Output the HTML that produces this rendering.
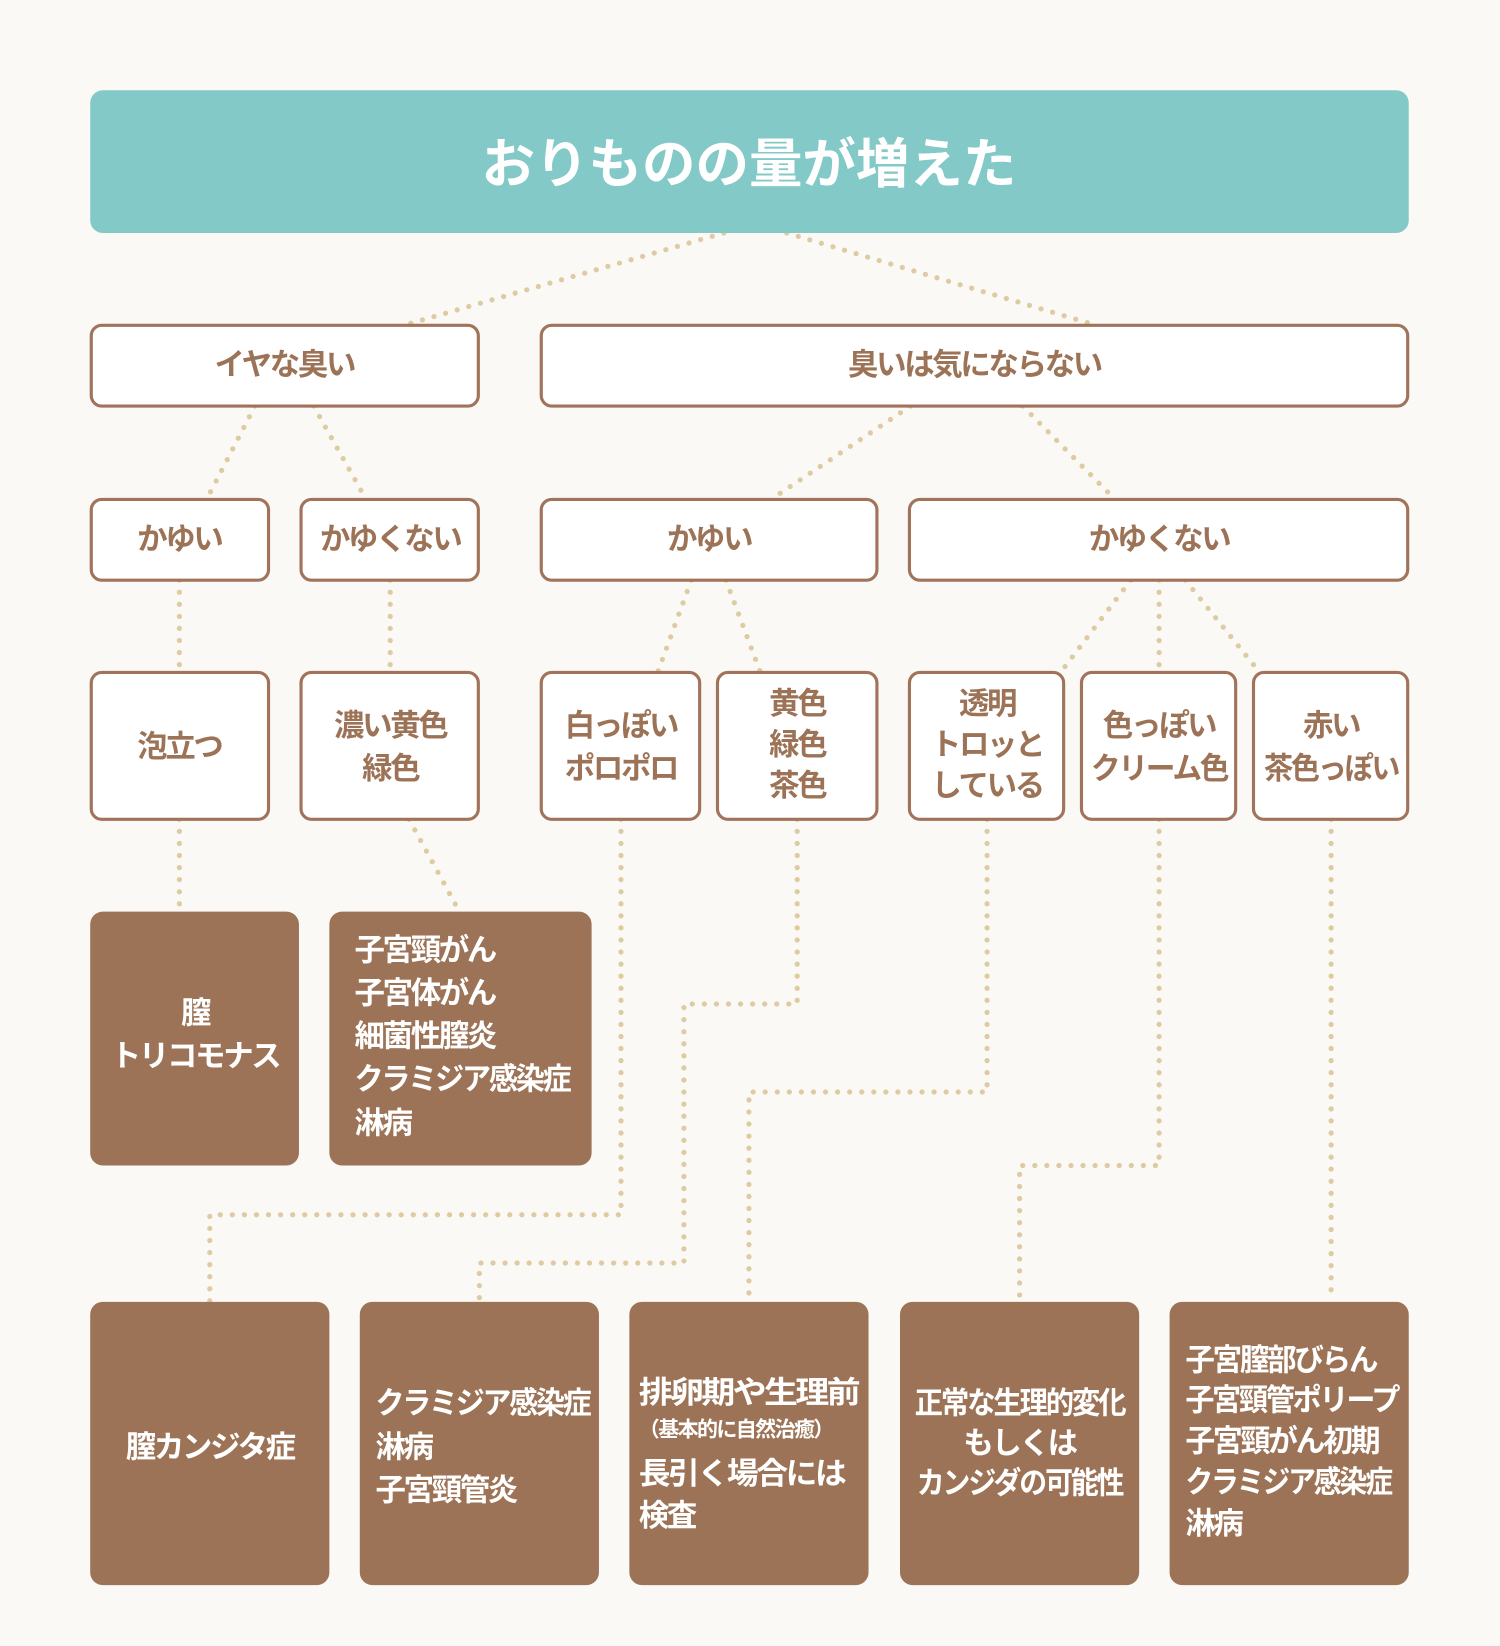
<!DOCTYPE html>
<html><head><meta charset="utf-8"><style>
html,body{margin:0;padding:0;background:#faf9f5;}
svg{display:block}
text{font-family:"Liberation Sans","Noto Sans CJK JP",sans-serif;font-weight:bold;dominant-baseline:central;}
.w{fill:#fff;stroke:#a0735a;stroke-width:3}
.b{fill:#9c7356}
.t{fill:#9c7356;font-size:29px;text-anchor:middle;letter-spacing:-2.2px}
.tw{fill:#fff;font-size:29px;letter-spacing:-2.2px}
.c{text-anchor:middle}
.d{fill:none;stroke:#dfcba3;stroke-width:5;stroke-linecap:round;stroke-dasharray:0 11.5}
</style></head><body>
<svg width="1500" height="1646" viewBox="0 0 1430 1569" xmlns="http://www.w3.org/2000/svg">
<rect width="1430" height="1569" fill="#faf9f5"/>
<g class="d">
<path d="M690 222 L385 310"/><path d="M750 222 L1045 310"/>
<path d="M243 387 L197 476"/><path d="M299 387 L349 476"/>
<path d="M868 387 L735 476"/><path d="M975 387 L1063 476"/>
<path d="M171 553 L171 641"/><path d="M372 553 L372 641"/>
<path d="M659 553 L627 641"/><path d="M692 553 L725 641"/>
<path d="M1078 553 L1011 641"/><path d="M1105 553 L1105 641"/><path d="M1130 553 L1201 641"/>
<path d="M171 781 L171 869"/><path d="M390 781 L438 869"/>
<path d="M592 781 L592 1158 L200 1158 L200 1241"/>
<path d="M760 781 L760 957 L652 957 L652 1204 L457 1204 L457 1241"/>
<path d="M941 781 L941 1041 L714 1041 L714 1241"/>
<path d="M1105 781 L1105 1111 L972 1111 L972 1241"/>
<path d="M1269 781 L1269 1241"/>
</g>
<rect x="86" y="86" width="1257" height="136" rx="12" fill="#83c9c7"/>
<text x="714" y="157" fill="#fff" font-size="51" text-anchor="middle">おりものの量が増えた</text>
<rect class="w" x="87" y="310" width="369" height="77" rx="10"/>
<text class="t" x="271" y="348">イヤな臭い</text>
<rect class="w" x="516" y="310" width="826" height="77" rx="10"/>
<text class="t" x="929" y="348">臭いは気にならない</text>
<rect class="w" x="87" y="476" width="169" height="77" rx="10"/>
<text class="t" x="171" y="514">かゆい</text>
<rect class="w" x="287" y="476" width="169" height="77" rx="10"/>
<text class="t" x="372" y="514">かゆくない</text>
<rect class="w" x="516" y="476" width="320" height="77" rx="10"/>
<text class="t" x="676" y="514">かゆい</text>
<rect class="w" x="867" y="476" width="475" height="77" rx="10"/>
<text class="t" x="1105" y="514">かゆくない</text>
<rect class="w" x="87" y="641" width="169" height="140" rx="10"/>
<text class="t" x="171" y="712">泡立つ</text>
<rect class="w" x="287" y="641" width="169" height="140" rx="10"/>
<text class="t" x="372" y="692">濃い黄色</text><text class="t" x="372" y="733">緑色</text>
<rect class="w" x="516" y="641" width="151" height="140" rx="10"/>
<text class="t" x="592" y="692">白っぽい</text><text class="t" x="592" y="733">ポロポロ</text>
<rect class="w" x="684" y="641" width="152" height="140" rx="10"/>
<text class="t" x="760" y="671">黄色</text><text class="t" x="760" y="710">緑色</text><text class="t" x="760" y="749">茶色</text>
<rect class="w" x="867" y="641" width="147" height="140" rx="10"/>
<text class="t" x="941" y="671">透明</text><text class="t" x="941" y="710">トロッと</text><text class="t" x="941" y="749">している</text>
<rect class="w" x="1031" y="641" width="147" height="140" rx="10"/>
<text class="t" x="1105" y="692">色っぽい</text><text class="t" x="1105" y="733" textLength="130" lengthAdjust="spacingAndGlyphs">クリーム色</text>
<rect class="w" x="1195" y="641" width="147" height="140" rx="10"/>
<text class="t" x="1269" y="692">赤い</text><text class="t" x="1269" y="733" textLength="128" lengthAdjust="spacingAndGlyphs">茶色っぽい</text>
<rect class="b" x="86" y="869" width="199" height="242" rx="12"/>
<text class="tw c" x="186" y="966">膣</text><text class="tw c" x="186" y="1007">トリコモナス</text>
<rect class="b" x="314" y="869" width="250" height="242" rx="12"/>
<text class="tw" x="338" y="906">子宮頸がん</text>
<text class="tw" x="338" y="947">子宮体がん</text>
<text class="tw" x="338" y="988">細菌性膣炎</text>
<text class="tw" x="338" y="1029" textLength="205" lengthAdjust="spacingAndGlyphs">クラミジア感染症</text>
<text class="tw" x="338" y="1071">淋病</text>
<rect class="b" x="86" y="1241" width="228" height="270" rx="12"/>
<text class="tw c" x="200" y="1380">膣カンジタ症</text>
<rect class="b" x="343" y="1241" width="228" height="270" rx="12"/>
<text class="tw" x="358" y="1338" textLength="204" lengthAdjust="spacingAndGlyphs">クラミジア感染症</text>
<text class="tw" x="358" y="1380">淋病</text>
<text class="tw" x="358" y="1421">子宮頸管炎</text>
<rect class="b" x="600" y="1241" width="228" height="270" rx="12"/>
<text class="tw" x="609" y="1328" textLength="209" lengthAdjust="spacingAndGlyphs">排卵期や生理前</text>
<text class="tw" x="609" y="1363" style="font-size:20px;letter-spacing:-1.5px">（基本的に自然治癒）</text>
<text class="tw" x="609" y="1405" textLength="196" lengthAdjust="spacingAndGlyphs">長引く場合には</text>
<text class="tw" x="609" y="1445">検査</text>
<rect class="b" x="858" y="1241" width="228" height="270" rx="12"/>
<text class="tw c" x="972" y="1338" textLength="200" lengthAdjust="spacingAndGlyphs">正常な生理的変化</text>
<text class="tw c" x="972" y="1376">もしくは</text>
<text class="tw c" x="972" y="1414" textLength="196" lengthAdjust="spacingAndGlyphs">カンジダの可能性</text>
<rect class="b" x="1115" y="1241" width="228" height="270" rx="12"/>
<text class="tw" x="1130" y="1297" textLength="182" lengthAdjust="spacingAndGlyphs">子宮膣部びらん</text>
<text class="tw" x="1130" y="1335" textLength="203" lengthAdjust="spacingAndGlyphs">子宮頸管ポリープ</text>
<text class="tw" x="1130" y="1374" textLength="184" lengthAdjust="spacingAndGlyphs">子宮頸がん初期</text>
<text class="tw" x="1130" y="1413" textLength="196" lengthAdjust="spacingAndGlyphs">クラミジア感染症</text>
<text class="tw" x="1130" y="1453">淋病</text>
</svg>
</body></html>
